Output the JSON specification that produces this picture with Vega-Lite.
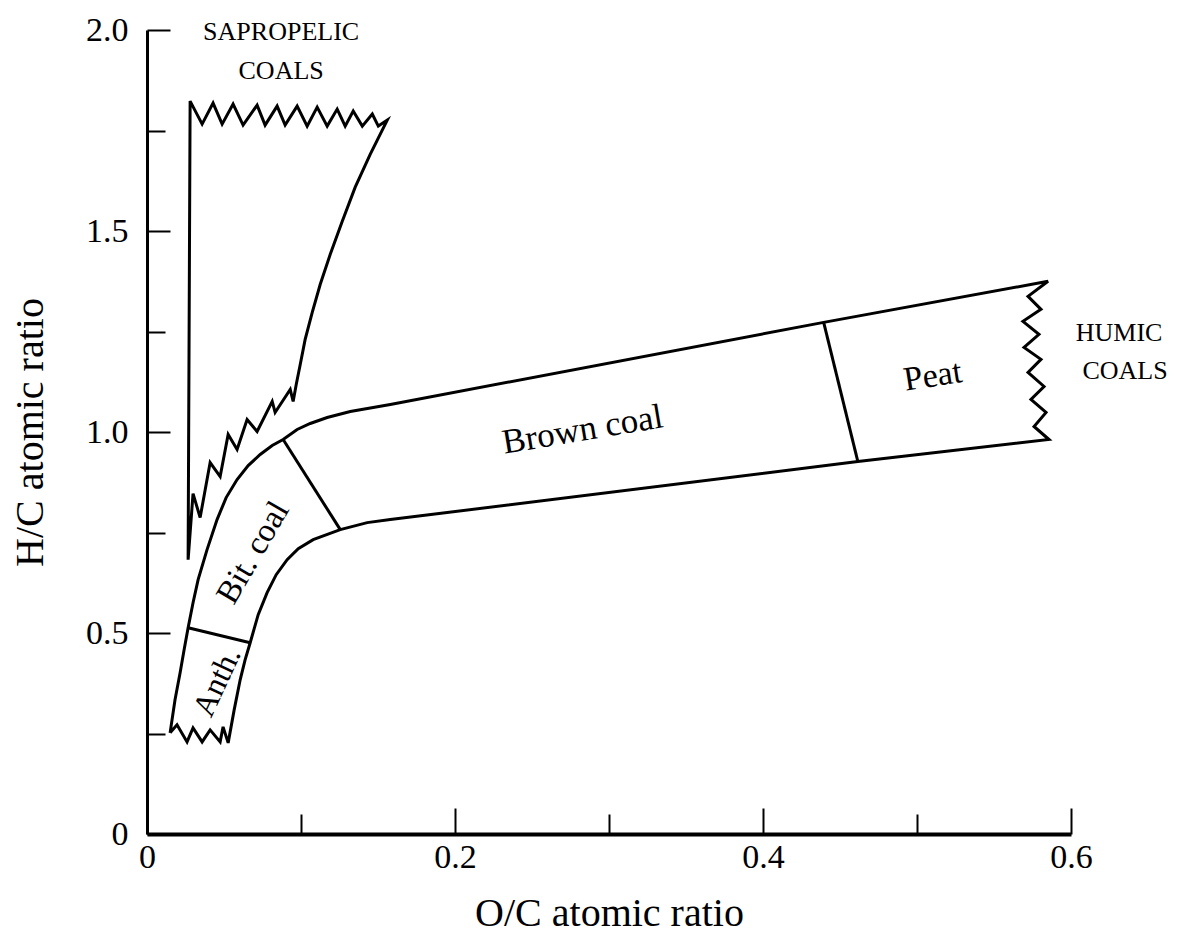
{
  "$schema": "https://vega.github.io/schema/vega-lite/v6.json",
  "autosize": {"type": "none"},
  "padding": {"left": 147, "top": 30, "right": 107, "bottom": 101},
  "width": 924,
  "height": 804,
  "background": "white",
  "config": {"view": {"stroke": null}},
  "datasets": {
    "outlines": [
      {"s": "sapro", "o": 1, "x": 0.0267, "y": 0.6824},
      {"s": "sapro", "o": 2, "x": 0.0280, "y": 1.8232},
      {"s": "sapro", "o": 3, "x": 0.0358, "y": 1.7659},
      {"s": "sapro", "o": 4, "x": 0.0429, "y": 1.8182},
      {"s": "sapro", "o": 5, "x": 0.0488, "y": 1.7659},
      {"s": "sapro", "o": 6, "x": 0.0559, "y": 1.8157},
      {"s": "sapro", "o": 7, "x": 0.0624, "y": 1.7634},
      {"s": "sapro", "o": 8, "x": 0.0715, "y": 1.8132},
      {"s": "sapro", "o": 9, "x": 0.0767, "y": 1.7634},
      {"s": "sapro", "o": 10, "x": 0.0845, "y": 1.8107},
      {"s": "sapro", "o": 11, "x": 0.0897, "y": 1.7634},
      {"s": "sapro", "o": 12, "x": 0.0975, "y": 1.8107},
      {"s": "sapro", "o": 13, "x": 0.1040, "y": 1.7609},
      {"s": "sapro", "o": 14, "x": 0.1105, "y": 1.8082},
      {"s": "sapro", "o": 15, "x": 0.1170, "y": 1.7609},
      {"s": "sapro", "o": 16, "x": 0.1235, "y": 1.8032},
      {"s": "sapro", "o": 17, "x": 0.1287, "y": 1.7609},
      {"s": "sapro", "o": 18, "x": 0.1339, "y": 1.7983},
      {"s": "sapro", "o": 19, "x": 0.1398, "y": 1.7609},
      {"s": "sapro", "o": 20, "x": 0.1463, "y": 1.7908},
      {"s": "sapro", "o": 21, "x": 0.1502, "y": 1.7609},
      {"s": "sapro", "o": 22, "x": 0.1560, "y": 1.7758},
      {"s": "sapro", "o": 23, "x": 0.1450, "y": 1.6912},
      {"s": "sapro", "o": 24, "x": 0.1352, "y": 1.6090},
      {"s": "sapro", "o": 25, "x": 0.1268, "y": 1.5243},
      {"s": "sapro", "o": 26, "x": 0.1190, "y": 1.4421},
      {"s": "sapro", "o": 27, "x": 0.1125, "y": 1.3674},
      {"s": "sapro", "o": 28, "x": 0.1073, "y": 1.2976},
      {"s": "sapro", "o": 29, "x": 0.1027, "y": 1.2304},
      {"s": "sapro", "o": 30, "x": 0.0995, "y": 1.1681},
      {"s": "sapro", "o": 31, "x": 0.0969, "y": 1.1183},
      {"s": "sapro", "o": 32, "x": 0.0949, "y": 1.0760},
      {"s": "sapro", "o": 33, "x": 0.0930, "y": 1.1059},
      {"s": "sapro", "o": 34, "x": 0.0832, "y": 1.0486},
      {"s": "sapro", "o": 35, "x": 0.0813, "y": 1.0760},
      {"s": "sapro", "o": 36, "x": 0.0715, "y": 1.0012},
      {"s": "sapro", "o": 37, "x": 0.0650, "y": 1.0311},
      {"s": "sapro", "o": 38, "x": 0.0585, "y": 0.9564},
      {"s": "sapro", "o": 39, "x": 0.0527, "y": 0.9938},
      {"s": "sapro", "o": 40, "x": 0.0475, "y": 0.8892},
      {"s": "sapro", "o": 41, "x": 0.0410, "y": 0.9240},
      {"s": "sapro", "o": 42, "x": 0.0345, "y": 0.7871},
      {"s": "sapro", "o": 43, "x": 0.0299, "y": 0.8468},
      {"s": "sapro", "o": 44, "x": 0.0267, "y": 0.6824},
      {"s": "band", "o": 1, "x": 0.0150, "y": 0.2516},
      {"s": "band", "o": 2, "x": 0.0182, "y": 0.3338},
      {"s": "band", "o": 3, "x": 0.0215, "y": 0.4010},
      {"s": "band", "o": 4, "x": 0.0241, "y": 0.4583},
      {"s": "band", "o": 5, "x": 0.0267, "y": 0.5131},
      {"s": "band", "o": 6, "x": 0.0299, "y": 0.5754},
      {"s": "band", "o": 7, "x": 0.0332, "y": 0.6326},
      {"s": "band", "o": 8, "x": 0.0390, "y": 0.7074},
      {"s": "band", "o": 9, "x": 0.0455, "y": 0.7821},
      {"s": "band", "o": 10, "x": 0.0514, "y": 0.8369},
      {"s": "band", "o": 11, "x": 0.0585, "y": 0.8817},
      {"s": "band", "o": 12, "x": 0.0657, "y": 0.9166},
      {"s": "band", "o": 13, "x": 0.0735, "y": 0.9440},
      {"s": "band", "o": 14, "x": 0.0813, "y": 0.9664},
      {"s": "band", "o": 15, "x": 0.0884, "y": 0.9813},
      {"s": "band", "o": 16, "x": 0.0975, "y": 1.0062},
      {"s": "band", "o": 17, "x": 0.1060, "y": 1.0212},
      {"s": "band", "o": 18, "x": 0.1170, "y": 1.0361},
      {"s": "band", "o": 19, "x": 0.1320, "y": 1.0511},
      {"s": "band", "o": 20, "x": 0.1580, "y": 1.0685},
      {"s": "band", "o": 21, "x": 0.4394, "y": 1.2727},
      {"s": "band", "o": 22, "x": 0.5851, "y": 1.3749},
      {"s": "band", "o": 23, "x": 0.5721, "y": 1.3375},
      {"s": "band", "o": 24, "x": 0.5805, "y": 1.3051},
      {"s": "band", "o": 25, "x": 0.5688, "y": 1.2752},
      {"s": "band", "o": 26, "x": 0.5792, "y": 1.2429},
      {"s": "band", "o": 27, "x": 0.5695, "y": 1.2105},
      {"s": "band", "o": 28, "x": 0.5805, "y": 1.1806},
      {"s": "band", "o": 29, "x": 0.5721, "y": 1.1482},
      {"s": "band", "o": 30, "x": 0.5825, "y": 1.1133},
      {"s": "band", "o": 31, "x": 0.5740, "y": 1.0810},
      {"s": "band", "o": 32, "x": 0.5838, "y": 1.0486},
      {"s": "band", "o": 33, "x": 0.5760, "y": 1.0137},
      {"s": "band", "o": 34, "x": 0.5857, "y": 0.9813},
      {"s": "band", "o": 35, "x": 0.4616, "y": 0.9265},
      {"s": "band", "o": 36, "x": 0.1580, "y": 0.7821},
      {"s": "band", "o": 37, "x": 0.1430, "y": 0.7746},
      {"s": "band", "o": 38, "x": 0.1255, "y": 0.7572},
      {"s": "band", "o": 39, "x": 0.1079, "y": 0.7323},
      {"s": "band", "o": 40, "x": 0.0982, "y": 0.7098},
      {"s": "band", "o": 41, "x": 0.0910, "y": 0.6824},
      {"s": "band", "o": 42, "x": 0.0839, "y": 0.6451},
      {"s": "band", "o": 43, "x": 0.0780, "y": 0.6003},
      {"s": "band", "o": 44, "x": 0.0722, "y": 0.5455},
      {"s": "band", "o": 45, "x": 0.0670, "y": 0.4757},
      {"s": "band", "o": 46, "x": 0.0637, "y": 0.4334},
      {"s": "band", "o": 47, "x": 0.0605, "y": 0.3836},
      {"s": "band", "o": 48, "x": 0.0566, "y": 0.3088},
      {"s": "band", "o": 49, "x": 0.0527, "y": 0.2267},
      {"s": "band", "o": 50, "x": 0.0494, "y": 0.2665},
      {"s": "band", "o": 51, "x": 0.0475, "y": 0.2291},
      {"s": "band", "o": 52, "x": 0.0410, "y": 0.2590},
      {"s": "band", "o": 53, "x": 0.0358, "y": 0.2291},
      {"s": "band", "o": 54, "x": 0.0299, "y": 0.2640},
      {"s": "band", "o": 55, "x": 0.0260, "y": 0.2291},
      {"s": "band", "o": 56, "x": 0.0195, "y": 0.2715},
      {"s": "band", "o": 57, "x": 0.0150, "y": 0.2516},
      {"s": "d1", "o": 1, "x": 0.0267, "y": 0.5131},
      {"s": "d1", "o": 2, "x": 0.0670, "y": 0.4757},
      {"s": "d2", "o": 1, "x": 0.0884, "y": 0.9813},
      {"s": "d2", "o": 2, "x": 0.1255, "y": 0.7572},
      {"s": "d3", "o": 1, "x": 0.4394, "y": 1.2727},
      {"s": "d3", "o": 2, "x": 0.4616, "y": 0.9265}
    ],
    "caps": [
      {"t": "SAPROPELIC", "x": 0.0871, "y": 1.996},
      {"t": "COALS", "x": 0.0871, "y": 1.898},
      {"t": "HUMIC", "x": 0.6312, "y": 1.2453},
      {"t": "COALS", "x": 0.6351, "y": 1.1507}
    ],
    "brown": [{"t": "Brown coal", "x": 0.2828, "y": 1.0062}],
    "peat": [{"t": "Peat", "x": 0.5103, "y": 1.1383}],
    "bit": [{"t": "Bit. coal", "x": 0.0689, "y": 0.6999}],
    "anth": [{"t": "Anth.", "x": 0.0455, "y": 0.3786}]
  },
  "layer": [
    {
      "data": {"name": "outlines"},
      "mark": {"type": "line", "color": "black", "strokeWidth": 3, "clip": false},
      "encoding": {
        "x": {
          "field": "x", "type": "quantitative",
          "scale": {"domain": [0, 0.6], "nice": false, "zero": true},
          "axis": {
            "title": "O/C atomic ratio",
            "values": [0, 0.1, 0.2, 0.3, 0.4, 0.5, 0.6],
            "labelExpr": "round(datum.value*10) % 2 === 0 ? (datum.value === 0 ? '0' : format(datum.value, '.1f')) : ''",
            "labelOverlap": false,
            "labelFlush": false,
            "grid": false,
            "tickSize": {"condition": {"test": "round(datum.value*10) % 2 !== 0", "value": -20}, "value": -26},
            "tickWidth": 2,
            "tickColor": "black",
            "domainColor": "black",
            "domainWidth": 4,
            "labelFont": "Liberation Serif",
            "labelFontSize": 34,
            "labelColor": "black",
            "labelPadding": 32,
            "titleFont": "Liberation Serif",
            "titleFontSize": 40,
            "titleFontWeight": "normal",
            "titleColor": "black",
            "titleX": 462,
            "titleY": 91,
            "titleBaseline": "alphabetic",
            "titleAlign": "center"
          }
        },
        "y": {
          "field": "y", "type": "quantitative",
          "scale": {"domain": [0, 2], "nice": false, "zero": true},
          "axis": {
            "title": "H/C atomic ratio",
            "values": [0, 0.25, 0.5, 0.75, 1, 1.25, 1.5, 1.75, 2],
            "labelExpr": "datum.value % 0.5 === 0 ? (datum.value === 0 ? '0' : format(datum.value, '.1f')) : ''",
            "labelOverlap": false,
            "labelFlush": false,
            "grid": false,
            "tickSize": {"condition": {"test": "datum.value % 0.5 !== 0", "value": -18}, "value": -23},
            "tickWidth": 2,
            "tickColor": "black",
            "domainColor": "black",
            "domainWidth": 3,
            "labelFont": "Liberation Serif",
            "labelFontSize": 34,
            "labelColor": "black",
            "labelPadding": 42,
            "titleFont": "Liberation Serif",
            "titleFontSize": 40,
            "titleFontWeight": "normal",
            "titleColor": "black",
            "titleAngle": 270,
            "titleX": -105,
            "titleY": 402,
            "titleBaseline": "alphabetic",
            "titleAlign": "center"
          }
        },
        "detail": {"field": "s", "type": "nominal"},
        "order": {"field": "o", "type": "quantitative"}
      }
    },
    {
      "data": {"name": "caps"},
      "mark": {"type": "text", "font": "Liberation Serif", "fontSize": 26, "color": "black", "align": "center", "baseline": "middle", "clip": false},
      "encoding": {
        "x": {"field": "x", "type": "quantitative"},
        "y": {"field": "y", "type": "quantitative"},
        "text": {"field": "t"}
      }
    },
    {
      "data": {"name": "brown"},
      "mark": {"type": "text", "font": "Liberation Serif", "fontSize": 35, "angle": -9.5, "color": "black", "align": "center", "baseline": "middle"},
      "encoding": {
        "x": {"field": "x", "type": "quantitative"},
        "y": {"field": "y", "type": "quantitative"},
        "text": {"field": "t"}
      }
    },
    {
      "data": {"name": "peat"},
      "mark": {"type": "text", "font": "Liberation Serif", "fontSize": 34, "angle": -9, "color": "black", "align": "center", "baseline": "middle"},
      "encoding": {
        "x": {"field": "x", "type": "quantitative"},
        "y": {"field": "y", "type": "quantitative"},
        "text": {"field": "t"}
      }
    },
    {
      "data": {"name": "bit"},
      "mark": {"type": "text", "font": "Liberation Serif", "fontSize": 33, "angle": -60, "color": "black", "align": "center", "baseline": "middle"},
      "encoding": {
        "x": {"field": "x", "type": "quantitative"},
        "y": {"field": "y", "type": "quantitative"},
        "text": {"field": "t"}
      }
    },
    {
      "data": {"name": "anth"},
      "mark": {"type": "text", "font": "Liberation Serif", "fontSize": 32, "angle": -65, "color": "black", "align": "center", "baseline": "middle"},
      "encoding": {
        "x": {"field": "x", "type": "quantitative"},
        "y": {"field": "y", "type": "quantitative"},
        "text": {"field": "t"}
      }
    }
  ]
}
